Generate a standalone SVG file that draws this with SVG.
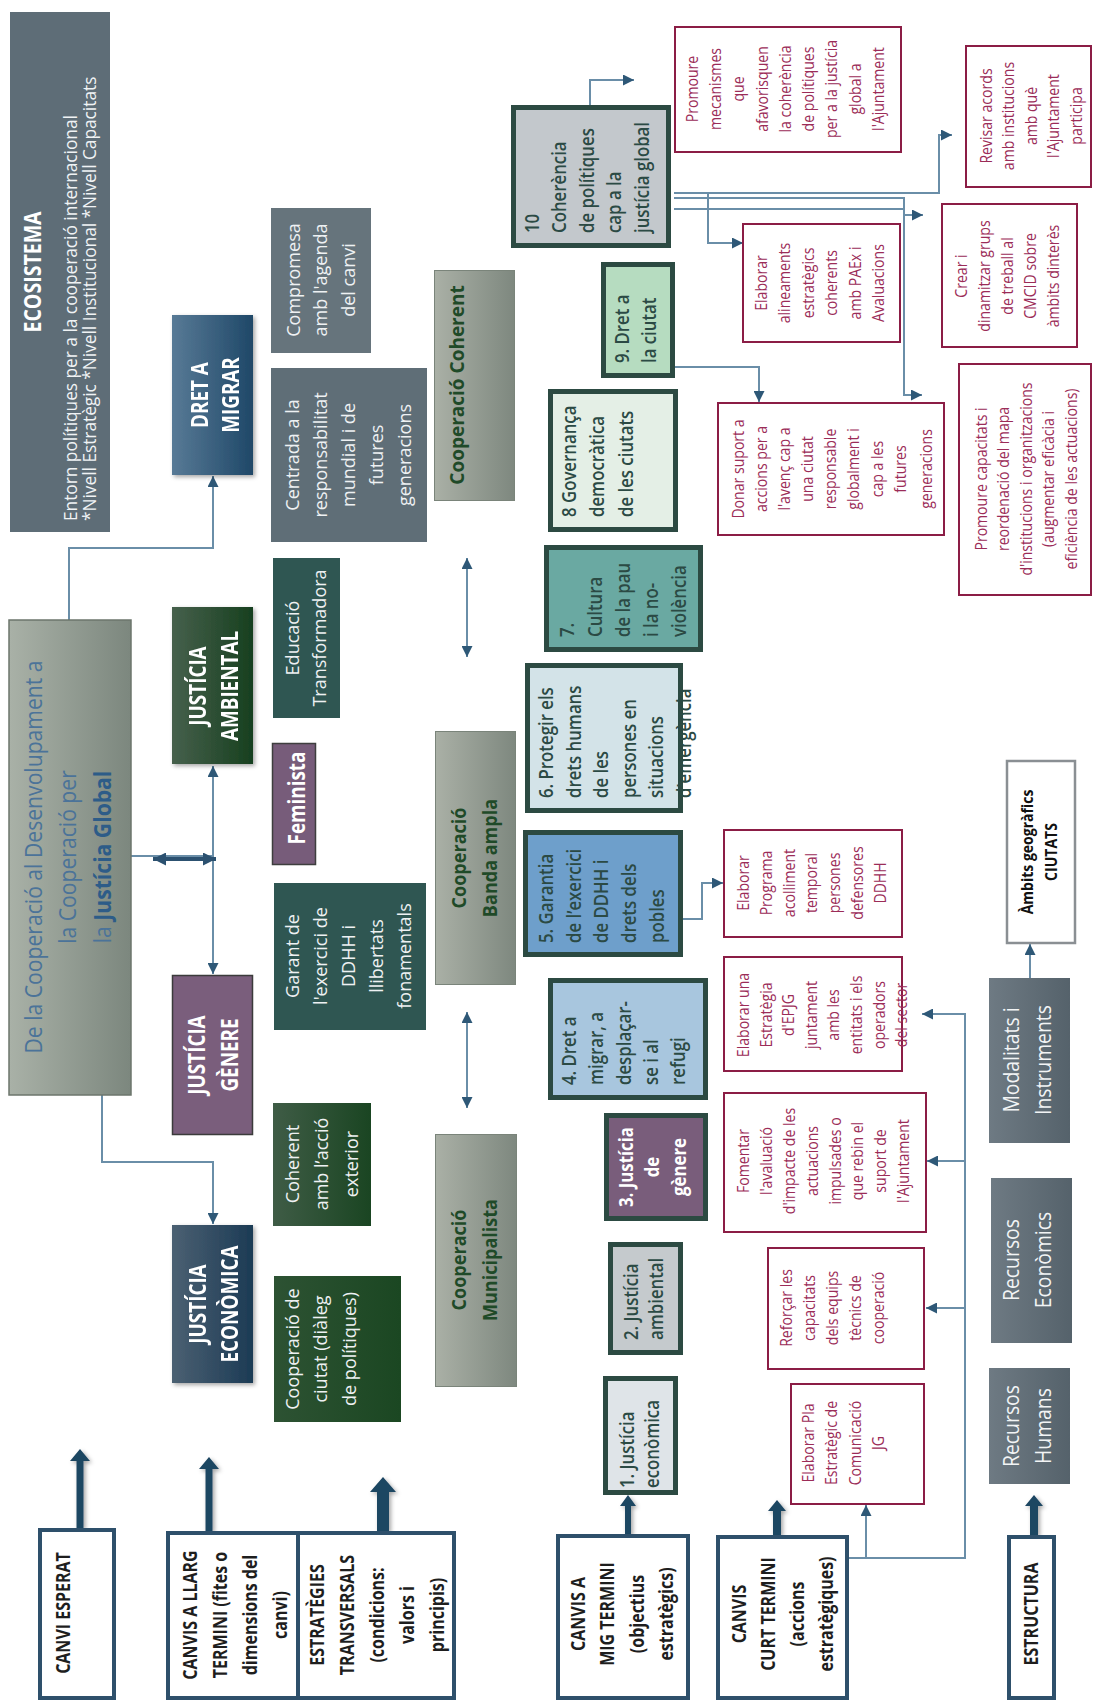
<svg xmlns="http://www.w3.org/2000/svg" width="1094" height="1702" viewBox="0 0 1094 1702">
  <defs>
    <style>
      text { font-family: "Open Sans", "Liberation Sans", sans-serif; }
      .mr { font-size: 16px; fill: #9b2c58; text-anchor: middle; }
      .g3 { font-size: 19px; fill: #eef1f3; text-anchor: middle; }
      .num { font-size: 20px; font-weight: 600; fill: #2b4a44; }
      .lbl { font-size: 20px; font-weight: 700; fill: #1e1e1e; text-anchor: middle; }
      .thm { font-size: 23px; font-weight: 700; fill: #ffffff; text-anchor: middle; }
      .coop { font-size: 19px; font-weight: 700; fill: #1f4a28; text-anchor: middle; }
      .big { font-size: 23px; fill: #4b7399; text-anchor: middle; }
      .st { font-size: 22px; fill: #f2f4f5; text-anchor: middle; }
      .mbox { fill: #ffffff; stroke: #8b1d45; stroke-width: 2; }
      .lbox { fill: #ffffff; stroke: #2e506b; stroke-width: 4; }
      .nbox { stroke: #2c4a42; stroke-width: 5; }
      .con { fill: none; stroke: #6a8ea8; stroke-width: 2; }
      .thick { fill: #1f4662; filter: url(#sh); }
    </style>
    <linearGradient id="gBig" x1="0" y1="0" x2="1" y2="0"><stop offset="0" stop-color="#a9b1a7"/><stop offset="1" stop-color="#7c877e"/></linearGradient>
    <linearGradient id="gCoop" x1="0" y1="0" x2="1" y2="0"><stop offset="0" stop-color="#aab0a6"/><stop offset="1" stop-color="#7e887f"/></linearGradient>
    <linearGradient id="gMig" x1="0" y1="0" x2="1" y2="0"><stop offset="0" stop-color="#587a96"/><stop offset="1" stop-color="#1f4868"/></linearGradient>
    <linearGradient id="gAmb" x1="0" y1="0" x2="1" y2="0"><stop offset="0" stop-color="#46604c"/><stop offset="1" stop-color="#17401f"/></linearGradient>
    <linearGradient id="gEco" x1="0" y1="0" x2="1" y2="0"><stop offset="0" stop-color="#4b6072"/><stop offset="1" stop-color="#1c3b55"/></linearGradient>
    <linearGradient id="gCoh" x1="0" y1="0" x2="1" y2="0"><stop offset="0" stop-color="#3f5c46"/><stop offset="1" stop-color="#1a4522"/></linearGradient>
    <linearGradient id="gCiu" x1="0" y1="0" x2="1" y2="0"><stop offset="0" stop-color="#2d5233"/><stop offset="1" stop-color="#1b4722"/></linearGradient>
    <linearGradient id="gSt" x1="0" y1="0" x2="1" y2="0"><stop offset="0" stop-color="#6e7a83"/><stop offset="1" stop-color="#55626b"/></linearGradient>
    <filter id="sh" x="-30%" y="-30%" width="160%" height="160%">
      <feDropShadow dx="2" dy="2" stdDeviation="2" flood-color="#000" flood-opacity="0.35"/>
    </filter>
    <marker id="ah" viewBox="0 0 10 10" refX="10" refY="5" markerWidth="12" markerHeight="11" markerUnits="userSpaceOnUse" orient="auto-start-reverse">
      <path d="M0,0 L10,5 L0,10 z" fill="#2e5877"/>
    </marker>
    <marker id="ahb" viewBox="0 0 10 10" refX="10" refY="5" markerWidth="14" markerHeight="13" markerUnits="userSpaceOnUse" orient="auto-start-reverse">
      <path d="M0,0 L10,5 L0,10 z" fill="#2c5170"/>
    </marker>
  </defs>

  <rect width="1094" height="1702" fill="#ffffff"/>

  <!-- connectors -->
  <g id="connectors">
    <path class="con" d="M69,620 V548 H213 V476" marker-end="url(#ah)"/>
    <path class="con" d="M131,856 H213"/>
    <path class="con" d="M213,766 V974" marker-start="url(#ah)" marker-end="url(#ah)"/>
    <path d="M153,859 H216" fill="none" stroke="#2c5170" stroke-width="4" marker-start="url(#ahb)" marker-end="url(#ahb)"/>
    <path class="con" d="M102,1095 V1162 H213 V1224" marker-end="url(#ah)"/>
    <path class="con" d="M467,558 V657" marker-start="url(#ah)" marker-end="url(#ah)"/>
    <path class="con" d="M467,1012 V1108" marker-start="url(#ah)" marker-end="url(#ah)"/>
    <path class="con" d="M590,105 V80 H634" marker-end="url(#ah)"/>
    <path class="con" d="M674,193 H939 V135 H952" marker-end="url(#ah)"/>
    <path class="con" d="M674,198 H904 V395 H922" marker-end="url(#ah)"/>
    <path class="con" d="M674,209 H904"/>
    <path class="con" d="M904,215 H923" marker-end="url(#ah)"/>
    <path class="con" d="M708,193 V243 H743" marker-end="url(#ah)"/>
    <path class="con" d="M675,367 H759 V402" marker-end="url(#ah)"/>
    <path class="con" d="M683,919 H702 V883 H723" marker-end="url(#ah)"/>
    <path class="con" d="M847,1558 H965 V1014 H922" marker-end="url(#ah)"/>
    <path class="con" d="M965,1161 H927" marker-end="url(#ah)"/>
    <path class="con" d="M965,1308 H926" marker-end="url(#ah)"/>
    <path class="con" d="M866,1558 V1505" marker-end="url(#ah)"/>
    <path class="con" d="M1030,978 V944" marker-end="url(#ah)"/>
    <!-- thick level arrows -->
    <path class="thick" d="M76.5,1528 V1461 H70 L80,1449 L90,1461 H83.5 V1528 z"/>
    <path class="thick" d="M205.5,1531 V1469 H199 L209,1457 L219,1469 H212.5 V1531 z"/>
    <path class="thick" d="M377,1531 V1492 H370 L383,1477 L396,1492 H389 V1531 z"/>
    <path class="thick" d="M625,1535 V1506 H620 L628,1495 L636,1506 H631 V1535 z"/>
    <path class="thick" d="M773,1535 V1511 H768 L777,1500 L786,1511 H781 V1535 z"/>
    <path class="thick" d="M1030,1535 V1506 H1025 L1034,1495 L1043,1506 H1038 V1535 z"/>
  </g>

  <!-- ecosystem banner -->
  <g id="n-ecosistema">
    <rect x="10" y="12" width="100" height="520" fill="#5e6d77"/>
    <text class="thm" transform="translate(41,272) rotate(-90) scale(0.85,1)">ECOSISTEMA</text>
    <text font-size="18" fill="#f0f3f5" transform="translate(77,521) rotate(-90) scale(0.96,1)"><tspan x="0" y="0">Entorn polítiques per a la cooperació internacional</tspan><tspan x="0" dy="19">*Nivell Estratègic *Nivell Institucional *Nivell Capacitats</tspan></text>
  </g>

  <g id="n-cooperacio-justicia">
    <rect x="9" y="620" width="122" height="475" fill="url(#gBig)" stroke="#6c766c" stroke-width="1.5"/>
    <text class="big" transform="translate(42,857) rotate(-90) scale(0.92,1)"><tspan x="0" y="0">De la Cooperació al Desenvolupament a</tspan><tspan x="0" dy="34.5">la Cooperació per</tspan><tspan x="0" dy="34.5">la <tspan font-weight="700" fill="#2d5c88">Justícia Global</tspan></tspan></text>
  </g>

  <!-- long-term themes -->
  <g id="n-dret-migrar" filter="url(#sh)">
    <rect x="172" y="315" width="81" height="160" fill="url(#gMig)"/>
    <text class="thm" transform="translate(208,395) rotate(-90) scale(0.82,1)"><tspan x="0" y="0">DRET A</tspan><tspan x="0" dy="31">MIGRAR</tspan></text>
  </g>
  <g id="n-justicia-ambiental" filter="url(#sh)">
    <rect x="172" y="607" width="81" height="157" fill="url(#gAmb)"/>
    <text class="thm" transform="translate(206,686) rotate(-90) scale(0.82,1)"><tspan x="0" y="0">JUSTÍCIA</tspan><tspan x="0" dy="32">AMBIENTAL</tspan></text>
  </g>
  <g id="n-justicia-genere">
    <rect x="172.5" y="975.5" width="80" height="159" fill="#7a5e7c" stroke="#3b3b3b" stroke-width="1.5"/>
    <text class="thm" transform="translate(205,1055) rotate(-90) scale(0.82,1)"><tspan x="0" y="0">JUSTÍCIA</tspan><tspan x="0" dy="33">GÈNERE</tspan></text>
  </g>
  <g id="n-justicia-economica" filter="url(#sh)">
    <rect x="172" y="1225" width="81" height="158" fill="url(#gEco)"/>
    <text class="thm" transform="translate(206,1304) rotate(-90) scale(0.82,1)"><tspan x="0" y="0">JUSTÍCIA</tspan><tspan x="0" dy="32">ECONÒMICA</tspan></text>
  </g>

  <!-- cross-cutting strategies -->
  <g id="n-compromesa">
    <rect x="271" y="208" width="100" height="145" fill="#66747c"/>
    <text class="g3" transform="translate(300,280) rotate(-90) scale(0.95,1)"><tspan x="0" y="0">Compromesa</tspan><tspan x="0" dy="27.5">amb l'agenda</tspan><tspan x="0" dy="27.5">del canvi</tspan></text>
  </g>
  <g id="n-centrada">
    <rect x="271" y="368" width="156" height="174" fill="#5f6e77"/>
    <text class="g3" transform="translate(299,455) rotate(-90) scale(0.95,1)"><tspan x="0" y="0">Centrada a la</tspan><tspan x="0" dy="28">responsabilitat</tspan><tspan x="0" dy="28">mundial i de</tspan><tspan x="0" dy="28">futures</tspan><tspan x="0" dy="28">generacions</tspan></text>
  </g>
  <g id="n-educacio">
    <rect x="273" y="558" width="67" height="160" fill="#2f5652"/>
    <text class="g3" transform="translate(299,638) rotate(-90) scale(0.95,1)"><tspan x="0" y="0">Educació</tspan><tspan x="0" dy="27">Transformadora</tspan></text>
  </g>
  <g id="n-feminista">
    <rect x="272.5" y="743.5" width="43" height="121" fill="#775c7a" stroke="#3e3e3e" stroke-width="1.5"/>
    <text class="thm" transform="translate(305,798) rotate(-90) scale(0.82,1)">Feminista</text>
  </g>
  <g id="n-garant">
    <rect x="274" y="883" width="152" height="147" fill="#2f5652"/>
    <text class="g3" transform="translate(299,956) rotate(-90) scale(0.95,1)"><tspan x="0" y="0">Garant de</tspan><tspan x="0" dy="28">l'exercici de</tspan><tspan x="0" dy="28">DDHH i</tspan><tspan x="0" dy="28">llibertats</tspan><tspan x="0" dy="28">fonamentals</tspan></text>
  </g>
  <g id="n-coherent-accio">
    <rect x="273" y="1103" width="98" height="123" fill="url(#gCoh)"/>
    <text class="g3" transform="translate(299,1164) rotate(-90) scale(0.95,1)"><tspan x="0" y="0">Coherent</tspan><tspan x="0" dy="29.5">amb l’acció</tspan><tspan x="0" dy="29.5">exterior</tspan></text>
  </g>
  <g id="n-cooperacio-ciutat">
    <rect x="274" y="1276" width="127" height="146" fill="url(#gCiu)"/>
    <text class="g3" transform="translate(299,1349) rotate(-90) scale(0.95,1)"><tspan x="0" y="0">Cooperació de</tspan><tspan x="0" dy="28.5">ciutat (diàleg</tspan><tspan x="0" dy="28.5">de polítiques)</tspan></text>
  </g>

  <!-- cooperation types -->
  <g id="n-coop-coherent">
    <rect x="434.5" y="270.5" width="80" height="230" fill="url(#gCoop)" stroke="#7a847a" stroke-width="1"/>
    <text class="coop" transform="translate(464,385) rotate(-90)">Cooperació Coherent</text>
  </g>
  <g id="n-coop-banda">
    <rect x="435.5" y="731.5" width="80" height="253" fill="url(#gCoop)" stroke="#7a847a" stroke-width="1"/>
    <text class="coop" transform="translate(466,858) rotate(-90) scale(0.95,1)"><tspan x="0" y="0">Cooperació</tspan><tspan x="0" dy="31">Banda ampla</tspan></text>
  </g>
  <g id="n-coop-municipalista">
    <rect x="435.5" y="1134.5" width="81" height="252" fill="url(#gCoop)" stroke="#7a847a" stroke-width="1"/>
    <text class="coop" transform="translate(466,1260) rotate(-90) scale(0.95,1)"><tspan x="0" y="0">Cooperació</tspan><tspan x="0" dy="31">Municipalista</tspan></text>
  </g>

  <!-- strategic objectives -->
  <g id="n-obj10">
    <rect class="nbox" x="513.5" y="107.5" width="155" height="138" fill="#c3c8cc"/>
    <text class="num" transform="translate(539,233) rotate(-90) scale(0.84,1)"><tspan x="0" y="0">10</tspan><tspan x="0" dy="27.5">Coherència</tspan><tspan x="0" dy="27.5">de polítiques</tspan><tspan x="0" dy="27.5">cap a la</tspan><tspan x="0" dy="27.5">justícia global</tspan></text>
  </g>
  <g id="n-obj9">
    <rect class="nbox" x="603.5" y="264.5" width="69" height="111" fill="#b6dcc0"/>
    <text class="num" transform="translate(629,363) rotate(-90) scale(0.84,1)"><tspan x="0" y="0">9. Dret a</tspan><tspan x="0" dy="27">la ciutat</tspan></text>
  </g>
  <g id="n-obj8">
    <rect class="nbox" x="550.5" y="391.5" width="125" height="138" fill="#e4efe6"/>
    <text class="num" transform="translate(576,517) rotate(-90) scale(0.84,1)"><tspan x="0" y="0">8 Governança</tspan><tspan x="0" dy="28.5">democràtica</tspan><tspan x="0" dy="28.5">de les ciutats</tspan></text>
  </g>
  <g id="n-obj7">
    <rect class="nbox" x="546.5" y="547.5" width="154" height="102" fill="#6aa9a2"/>
    <text class="num" transform="translate(574,637) rotate(-90) scale(0.84,1)"><tspan x="0" y="0">7.</tspan><tspan x="0" dy="28">Cultura</tspan><tspan x="0" dy="28">de la pau</tspan><tspan x="0" dy="28">i la no-</tspan><tspan x="0" dy="28">violència</tspan></text>
  </g>
  <g id="n-obj6">
    <rect class="nbox" x="527.5" y="665.5" width="153" height="145" fill="#d3e3e8"/>
    <text class="num" transform="translate(553,798) rotate(-90) scale(0.84,1)"><tspan x="0" y="0">6. Protegir els</tspan><tspan x="0" dy="27.6">drets humans</tspan><tspan x="0" dy="27.6">de les</tspan><tspan x="0" dy="27.6">persones en</tspan><tspan x="0" dy="27.6">situacions</tspan><tspan x="0" dy="27.6">d'emergència</tspan></text>
  </g>
  <g id="n-obj5">
    <rect class="nbox" x="525.5" y="832.5" width="155" height="122" fill="#6e9fcb"/>
    <text class="num" transform="translate(553,943) rotate(-90) scale(0.84,1)"><tspan x="0" y="0">5. Garantia</tspan><tspan x="0" dy="27.7">de l’exercici</tspan><tspan x="0" dy="27.7">de DDHH i</tspan><tspan x="0" dy="27.7">drets dels</tspan><tspan x="0" dy="27.7">pobles</tspan></text>
  </g>
  <g id="n-obj4">
    <rect class="nbox" x="550.5" y="980.5" width="155" height="117" fill="#a8c6de"/>
    <text class="num" transform="translate(576,1085) rotate(-90) scale(0.84,1)"><tspan x="0" y="0">4. Dret a</tspan><tspan x="0" dy="27.3">migrar, a</tspan><tspan x="0" dy="27.3">desplaçar-</tspan><tspan x="0" dy="27.3">se i al</tspan><tspan x="0" dy="27.3">refugi</tspan></text>
  </g>
  <g id="n-obj3">
    <rect class="nbox" x="606.5" y="1115.5" width="99" height="103" fill="#795d7b"/>
    <text class="num" fill="#ffffff" style="fill:#ffffff;text-anchor:middle;font-weight:700" transform="translate(633,1167) rotate(-90) scale(0.84,1)"><tspan x="0" y="0">3. Justícia</tspan><tspan x="0" dy="26.5">de</tspan><tspan x="0" dy="26.5">gènere</tspan></text>
  </g>
  <g id="n-obj2">
    <rect class="nbox" x="610.5" y="1244.5" width="70" height="108" fill="#c5cacd"/>
    <text class="num" transform="translate(638,1340) rotate(-90) scale(0.84,1)"><tspan x="0" y="0">2. Justícia</tspan><tspan x="0" dy="25">ambiental</tspan></text>
  </g>
  <g id="n-obj1">
    <rect class="nbox" x="605.5" y="1378.5" width="70" height="114" fill="#dfe4e8"/>
    <text class="num" transform="translate(634,1488) rotate(-90) scale(0.84,1)"><tspan x="0" y="0">1. Justícia</tspan><tspan x="0" dy="25">econòmica</tspan></text>
  </g>

  <!-- strategic actions -->
  <g id="n-act-mecanismes">
    <rect class="mbox" x="675" y="27" width="226" height="125"/>
    <text class="mr" transform="translate(698,89) rotate(-90) scale(0.88,1)"><tspan x="0" y="0">Promoure</tspan><tspan x="0" dy="23.25">mecanismes</tspan><tspan x="0" dy="23.25">que</tspan><tspan x="0" dy="23.25">afavorisquen</tspan><tspan x="0" dy="23.25">la coherència</tspan><tspan x="0" dy="23.25">de polítiques</tspan><tspan x="0" dy="23.25">per a la justícia</tspan><tspan x="0" dy="23.25">global a</tspan><tspan x="0" dy="23.25">l'Ajuntament</tspan></text>
  </g>
  <g id="n-act-alineaments">
    <rect class="mbox" x="743" y="224" width="157" height="118"/>
    <text class="mr" transform="translate(767,283) rotate(-90) scale(0.88,1)"><tspan x="0" y="0">Elaborar</tspan><tspan x="0" dy="23.4">alineaments</tspan><tspan x="0" dy="23.4">estratègics</tspan><tspan x="0" dy="23.4">coherents</tspan><tspan x="0" dy="23.4">amb PAEx i</tspan><tspan x="0" dy="23.4">Avaluacions</tspan></text>
  </g>
  <g id="n-act-revisar">
    <rect class="mbox" x="966" y="46" width="125" height="141"/>
    <text class="mr" transform="translate(992,116) rotate(-90) scale(0.88,1)"><tspan x="0" y="0">Revisar acords</tspan><tspan x="0" dy="22.5">amb institucions</tspan><tspan x="0" dy="22.5">amb què</tspan><tspan x="0" dy="22.5">l'Ajuntament</tspan><tspan x="0" dy="22.5">participa</tspan></text>
  </g>
  <g id="n-act-crear">
    <rect class="mbox" x="942" y="204" width="135" height="143"/>
    <text class="mr" transform="translate(967,276) rotate(-90) scale(0.88,1)"><tspan x="0" y="0">Crear i</tspan><tspan x="0" dy="23">dinamitzar grups</tspan><tspan x="0" dy="23">de treball al</tspan><tspan x="0" dy="23">CMCID sobre</tspan><tspan x="0" dy="23">àmbits dinterès</tspan></text>
  </g>
  <g id="n-act-capacitats">
    <rect class="mbox" x="959" y="364" width="132" height="231"/>
    <text class="mr" transform="translate(987,479) rotate(-90) scale(0.88,1)"><tspan x="0" y="0">Promoure capacitats i</tspan><tspan x="0" dy="22.5">reordenació del mapa</tspan><tspan x="0" dy="22.5">d'institucions i organitzacions</tspan><tspan x="0" dy="22.5">(augmentar eficàcia i</tspan><tspan x="0" dy="22.5">eficiència de les actuacions)</tspan></text>
  </g>
  <g id="n-act-donar-suport">
    <rect class="mbox" x="718" y="403" width="226" height="132"/>
    <text class="mr" transform="translate(744,469) rotate(-90) scale(0.88,1)"><tspan x="0" y="0">Donar suport a</tspan><tspan x="0" dy="23.1">accions per a</tspan><tspan x="0" dy="23.1">l'avenç cap a</tspan><tspan x="0" dy="23.1">una ciutat</tspan><tspan x="0" dy="23.1">responsable</tspan><tspan x="0" dy="23.1">globalment i</tspan><tspan x="0" dy="23.1">cap a les</tspan><tspan x="0" dy="23.1">futures</tspan><tspan x="0" dy="26.5">generacions</tspan></text>
  </g>
  <g id="n-act-programa">
    <rect class="mbox" x="724" y="830" width="178" height="107"/>
    <text class="mr" transform="translate(749,883) rotate(-90) scale(0.88,1)"><tspan x="0" y="0">Elaborar</tspan><tspan x="0" dy="22.8">Programa</tspan><tspan x="0" dy="22.8">acolliment</tspan><tspan x="0" dy="22.8">temporal</tspan><tspan x="0" dy="22.8">persones</tspan><tspan x="0" dy="22.8">defensores</tspan><tspan x="0" dy="22.8">DDHH</tspan></text>
  </g>
  <g id="n-act-epjg">
    <rect class="mbox" x="724" y="957" width="178" height="114"/>
    <text class="mr" transform="translate(749,1015) rotate(-90) scale(0.88,1)"><tspan x="0" y="0">Elaborar una</tspan><tspan x="0" dy="22.6">Estratègia</tspan><tspan x="0" dy="22.6">d'EPJG</tspan><tspan x="0" dy="22.6">juntament</tspan><tspan x="0" dy="22.6">amb les</tspan><tspan x="0" dy="22.6">entitats i els</tspan><tspan x="0" dy="22.6">operadors</tspan><tspan x="0" dy="22.6">del sector</tspan></text>
  </g>
  <g id="n-act-avaluacio">
    <rect class="mbox" x="724" y="1093" width="202" height="139"/>
    <text class="mr" transform="translate(749,1161) rotate(-90) scale(0.88,1)"><tspan x="0" y="0">Fomentar</tspan><tspan x="0" dy="22.9">l'avaluació</tspan><tspan x="0" dy="22.9">d'impacte de les</tspan><tspan x="0" dy="22.9">actuacions</tspan><tspan x="0" dy="22.9">impulsades o</tspan><tspan x="0" dy="22.9">que rebin el</tspan><tspan x="0" dy="22.9">suport de</tspan><tspan x="0" dy="22.9">l'Ajuntament</tspan></text>
  </g>
  <g id="n-act-reforcar">
    <rect class="mbox" x="768" y="1248" width="156" height="121"/>
    <text class="mr" transform="translate(792,1308) rotate(-90) scale(0.88,1)"><tspan x="0" y="0">Reforçar les</tspan><tspan x="0" dy="23">capacitats</tspan><tspan x="0" dy="23">dels equips</tspan><tspan x="0" dy="23">tècnics de</tspan><tspan x="0" dy="23">cooperació</tspan></text>
  </g>
  <g id="n-act-comunicacio">
    <rect class="mbox" x="791" y="1384" width="133" height="120"/>
    <text class="mr" transform="translate(814,1443) rotate(-90) scale(0.88,1)"><tspan x="0" y="0">Elaborar Pla</tspan><tspan x="0" dy="23.3">Estratègic de</tspan><tspan x="0" dy="23.3">Comunicació</tspan><tspan x="0" dy="23.3">JG</tspan></text>
  </g>

  <!-- structure -->
  <g id="n-ambits">
    <rect x="1007" y="761" width="68" height="182" fill="#ffffff" stroke="#8a8f93" stroke-width="2.5"/>
    <text font-size="16.5" font-weight="700" fill="#111" text-anchor="middle" transform="translate(1033,852) rotate(-90) scale(0.85,1)"><tspan x="0" y="0">Àmbits geogràfics</tspan><tspan x="0" dy="24">CIUTATS</tspan></text>
  </g>
  <g id="n-modalitats">
    <rect x="989" y="978" width="81" height="165" fill="url(#gSt)"/>
    <text class="st" transform="translate(1019,1060) rotate(-90) scale(0.88,1)"><tspan x="0" y="0">Modalitats i</tspan><tspan x="0" dy="32">Instruments</tspan></text>
  </g>
  <g id="n-rec-economics">
    <rect x="991" y="1178" width="81" height="165" fill="url(#gSt)"/>
    <text class="st" transform="translate(1019,1260) rotate(-90) scale(0.88,1)"><tspan x="0" y="0">Recursos</tspan><tspan x="0" dy="32">Econòmics</tspan></text>
  </g>
  <g id="n-rec-humans">
    <rect x="989" y="1368" width="81" height="116" fill="url(#gSt)"/>
    <text class="st" transform="translate(1019,1426) rotate(-90) scale(0.88,1)"><tspan x="0" y="0">Recursos</tspan><tspan x="0" dy="32">Humans</tspan></text>
  </g>

  <!-- level labels -->
  <g id="n-canvi-esperat">
    <rect class="lbox" x="40" y="1530" width="74" height="168"/>
    <text class="lbl" transform="translate(70,1613) rotate(-90) scale(0.8,1)">CANVI ESPERAT</text>
  </g>
  <g id="n-llarg-termini">
    <rect class="lbox" x="168" y="1533" width="130" height="165"/>
    <text class="lbl" transform="translate(197,1615) rotate(-90) scale(0.8,1)"><tspan x="0" y="0">CANVIS A LLARG</tspan><tspan x="0" dy="30">TERMINI (fites o</tspan><tspan x="0" dy="30">dimensions del</tspan><tspan x="0" dy="30">canvi)</tspan></text>
  </g>
  <g id="n-estrategies">
    <rect class="lbox" x="298" y="1533" width="156" height="165"/>
    <text class="lbl" transform="translate(324,1615) rotate(-90) scale(0.8,1)"><tspan x="0" y="0">ESTRATÈGIES</tspan><tspan x="0" dy="30">TRANSVERSALS</tspan><tspan x="0" dy="30">(condicions:</tspan><tspan x="0" dy="30">valors i</tspan><tspan x="0" dy="30">principis)</tspan></text>
  </g>
  <g id="n-mig-termini">
    <rect class="lbox" x="558" y="1536" width="130" height="162"/>
    <text class="lbl" transform="translate(585,1614) rotate(-90) scale(0.8,1)"><tspan x="0" y="0">CANVIS A</tspan><tspan x="0" dy="29.3">MIG TERMINI</tspan><tspan x="0" dy="29.3">(objectius</tspan><tspan x="0" dy="29.3">estratègics)</tspan></text>
  </g>
  <g id="n-curt-termini">
    <rect class="lbox" x="718" y="1537" width="129" height="161"/>
    <text class="lbl" transform="translate(746,1614) rotate(-90) scale(0.8,1)"><tspan x="0" y="0">CANVIS</tspan><tspan x="0" dy="29">CURT TERMINI</tspan><tspan x="0" dy="29">(accions</tspan><tspan x="0" dy="29">estratègiques)</tspan></text>
  </g>
  <g id="n-estructura">
    <rect class="lbox" x="1009" y="1537" width="45" height="161"/>
    <text class="lbl" transform="translate(1038,1614) rotate(-90) scale(0.8,1)">ESTRUCTURA</text>
  </g>
</svg>
